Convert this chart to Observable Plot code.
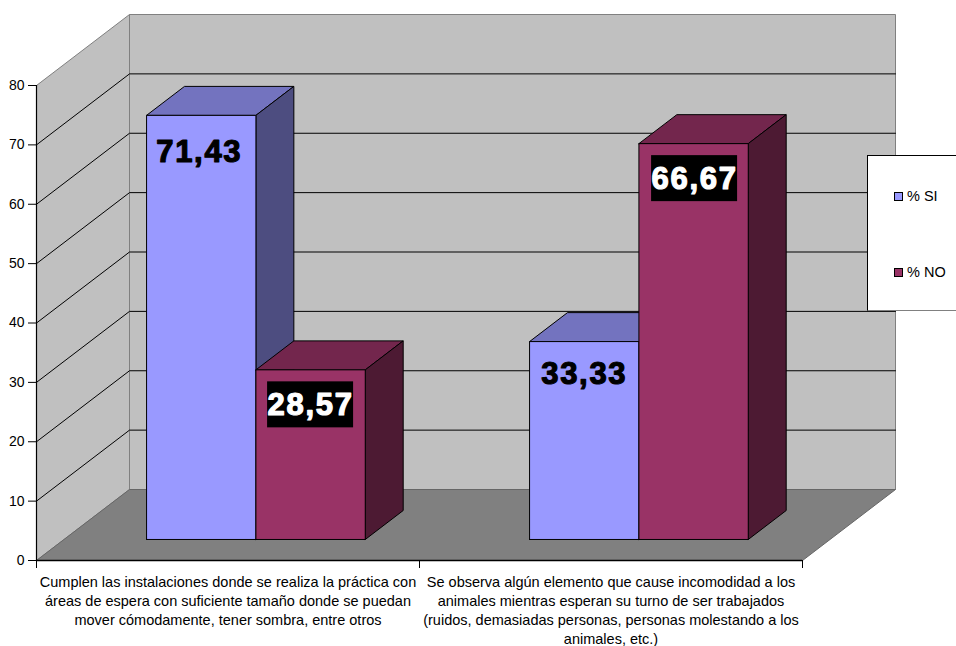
<!DOCTYPE html>
<html><head><meta charset="utf-8">
<script src="https://cdn.jsdelivr.net/npm/d3@7"></script>
<script src="https://cdn.jsdelivr.net/npm/@observablehq/plot@0.6"></script>
<style>
html,body{margin:0;padding:0;background:#fff;overflow:hidden}
#chart{position:relative;width:956px;height:646px;font-family:"Liberation Sans",Arial,sans-serif}
#legend{position:absolute;left:867px;top:155px;width:100px;height:156px;background:#fff;border:1px solid #000;border-bottom-color:#808080;box-sizing:border-box;font-size:14.5px;color:#000}
#legend div{position:absolute;left:26px;white-space:nowrap;line-height:16px}
#legend i{display:inline-block;width:7px;height:7px;border:1px solid #000;margin-right:4px;vertical-align:0}
.big text{letter-spacing:1.7px}
</style></head><body><div id="chart"></div>
<script>
const categories = [
  "Cumplen las instalaciones donde se realiza la práctica con\náreas de espera con suficiente tamaño donde se puedan\nmover cómodamente, tener sombra, entre otros",
  "Se observa algún elemento que cause incomodidad a los\nanimales mientras esperan su turno de ser trabajados\n(ruidos, demasiadas personas, personas molestando a los\nanimales, etc.)"
];
const seriesNames = ["% SI", "% NO"];
const valuesSI = [71.43, 33.33];
const valuesNO = [28.57, 66.67];
const labelsSI = ["71,43", "33,33"];
const labelsNO = ["28,57", "66,67"];
const colorsSI = {front:"#9999ff", top:"#7373bf", side:"#4d4d80"};
const colorsNO = {front:"#993366", top:"#73264d", side:"#4d1a33"};
const yTicks = [0,10,20,30,40,50,60,70,80];

// oblique projection of the 3D box, in scale units
const depthX = 93/383, depthY = 71/5.9375;
const P = (u, z, v) => ({x: u + z*depthX, y: v + z*depthY});
const face = (pts, fill, stroke="#000", strokeWidth=1) =>
  Plot.line([...pts, pts[0]], {x:"x", y:"y", fill, stroke, strokeWidth});

const gapU = 0.2155, barU = 0.2855, z0 = 0.296, z1 = 0.704;
function bar(u0, u1, v, c){
  return [
    face([P(u0,z0,v),P(u1,z0,v),P(u1,z1,v),P(u0,z1,v)], c.top),
    face([P(u1,z0,0),P(u1,z1,0),P(u1,z1,v),P(u1,z0,v)], c.side),
    face([P(u0,z0,0),P(u1,z0,0),P(u1,z0,v),P(u0,z0,v)], c.front)
  ];
}
const marks = [
  face([P(0,0,0),P(0,1,0),P(0,1,80),P(0,0,80)], "#c0c0c0", "#808080"),
  face([P(0,1,0),P(2,1,0),P(2,1,80),P(0,1,80)], "#c0c0c0", "#808080"),
  face([P(0,0,0),P(2,0,0),P(2,1,0),P(0,1,0)], "#808080", "#666"),
];
for (const v of yTicks.slice(1,-1))
  marks.push(Plot.line([P(0,0,v),P(0,1,v),P(2,1,v)], {x:"x", y:"y", stroke:"#000", strokeWidth:1}));
categories.forEach((_, i) => {
  const a = i + gapU;
  marks.push(...bar(a, a+barU, valuesSI[i], colorsSI));
  marks.push(...bar(a+barU, a+2*barU, valuesNO[i], colorsNO));
});
const labelFont = {fontFamily:"Liberation Sans", fontWeight:"bold", fontSize:31, strokeWidth:1.2, className:"big"};
const nudgeSI = [37, 32], nudgeNO = [35, 35], nudgeNOx = [0, 1], nudgeSIx = [-2, 0];
categories.forEach((_, i) => {
  const a = i + gapU, xSI = P(a+barU/2,z0,0).x, xNO = P(a+1.5*barU,z0,0).x;
  const ySI = P(0,z0,valuesSI[i]).y, yNO = P(0,z0,valuesNO[i]).y;
  marks.push(Plot.text([labelsSI[i]], {x:[xSI], y:[ySI], text:d=>d, dy:nudgeSI[i], dx:nudgeSIx[i], fill:"#000", stroke:"#000", ...labelFont}));
  marks.push(Plot.rect([0], {x1:[xNO], x2:[xNO], y1:[yNO], y2:[yNO], fill:"#000", dx:nudgeNOx[i],
    insetLeft:-43, insetRight:-43, insetTop:12, insetBottom:-58}));
  marks.push(Plot.text([labelsNO[i]], {x:[xNO], y:[yNO], text:d=>d, dy:nudgeNO[i], dx:nudgeNOx[i], fill:"#fff", stroke:"#fff", ...labelFont}));
});
marks.push(
  Plot.ruleX([0], {stroke:"#000", strokeWidth:1.2}),
  Plot.ruleY([0], {stroke:"#000", strokeWidth:1.5}),
  Plot.axisY({ticks:yTicks, tickSize:8, tickPadding:4, tickFormat:d=>String(d), label:null, fontSize:14, stroke:"#000", color:"#000"}),
  Plot.axisX({ticks:[0,1,2], tickSize:8, tickFormat:()=>"", label:null, stroke:"#000"}),
  Plot.text(categories, {x:[0.5,1.5], y:[0,0], text:d=>d, lineAnchor:"top", dy:13, lineHeight:1.31, fontSize:14.5, fill:"#000", fontFamily:"Liberation Sans"})
);
const svg = Plot.plot({
  width:956, height:646, marginLeft:36, marginRight:154, marginTop:85, marginBottom:86,
  x:{domain:[0,2], axis:null}, y:{domain:[0,80], axis:null},
  style:{background:"transparent", fontFamily:"Liberation Sans", overflow:"visible"},
  marks
});
const chart = document.getElementById("chart");
chart.append(svg);
const legend = document.createElement("div");
legend.id = "legend";
const legendTop = [32, 108];
seriesNames.forEach((n, i) => {
  const row = document.createElement("div");
  row.style.top = legendTop[i] + "px";
  const sw = document.createElement("i");
  sw.style.background = [colorsSI, colorsNO][i].front;
  row.append(sw, n);
  legend.append(row);
});
chart.append(legend);
</script></body></html>
